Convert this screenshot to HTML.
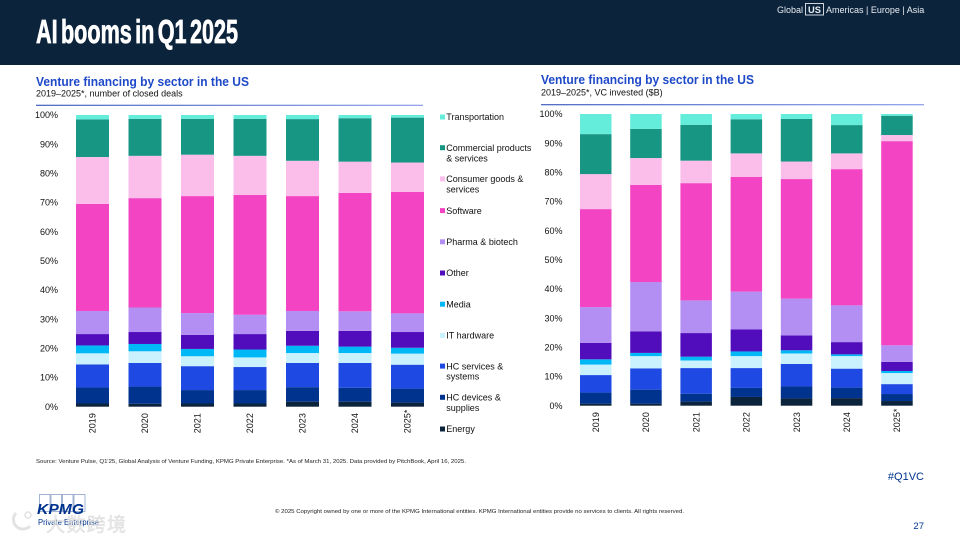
<!DOCTYPE html>
<html lang="en">
<head>
<meta charset="utf-8">
<title>AI booms in Q1 2025</title>
<style>
  html,body{margin:0;padding:0;background:#fff;}
  svg{display:block;font-family:"Liberation Sans",Arial,sans-serif;}
</style>
</head>
<body>
<svg id="slide" width="960" height="540" viewBox="0 0 960 540" xmlns="http://www.w3.org/2000/svg">
  <defs>
    <linearGradient id="rule-fade" x1="0" x2="1" y1="0" y2="0">
      <stop offset="0" stop-color="#3F5FC0"/>
      <stop offset="1" stop-color="#8A9CE8"/>
    </linearGradient>
  </defs>
  <rect x="0" y="0" width="960" height="65" fill="#0C233C"/>
  <text x="36" y="43" font-size="33" font-weight="700" fill="#fff" stroke="#fff" stroke-width="0.8" word-spacing="-4" textLength="202" lengthAdjust="spacingAndGlyphs">AI booms in Q1 2025</text>

  <g font-size="9" fill="#e8edf2">
    <text x="777" y="13">Global</text>
    <rect x="805.5" y="3.5" width="18" height="11.5" fill="none" stroke="#cfd6de" stroke-width="1"/>
    <text x="808" y="13" font-weight="700" textLength="13" lengthAdjust="spacingAndGlyphs">US</text>
    <text x="826" y="13">Americas | Europe | Asia</text>
  </g>

  <g>
    <text x="36" y="86" font-size="12.5" font-weight="700" fill="#1E49C8" textLength="213" lengthAdjust="spacingAndGlyphs">Venture financing by sector in the US</text>
    <text x="36" y="96.5" font-size="9" fill="#111">2019–2025*, number of closed deals</text>
    <rect x="36" y="104.7" width="387" height="1.2" fill="url(#rule-fade)"/>
  </g>
  <g>
    <text x="541" y="84" font-size="12.5" font-weight="700" fill="#1E49C8" textLength="213" lengthAdjust="spacingAndGlyphs">Venture financing by sector in the US</text>
    <text x="541" y="95.5" font-size="9" fill="#111">2019–2025*, VC invested ($B)</text>
    <rect x="541" y="104.1" width="383" height="1.2" fill="url(#rule-fade)"/>
  </g>

  <g id="left-chart"></g>
  <g id="right-chart"></g>
  <g id="legend" font-size="9" fill="#111"></g>

  <text x="36" y="463" font-size="5.6" fill="#222" textLength="430" lengthAdjust="spacingAndGlyphs">Source: Venture Pulse, Q1'25, Global Analysis of Venture Funding, KPMG Private Enterprise. *As of March 31, 2025. Data provided by PitchBook, April 16, 2025.</text>
  <text x="275" y="513" font-size="5.6" fill="#222" textLength="409" lengthAdjust="spacingAndGlyphs">© 2025 Copyright owned by one or more of the KPMG International entities. KPMG International entities provide no services to clients. All rights reserved.</text>

  <g>
    <g fill="none" stroke="#8DA2C8" stroke-width="0.8">
      <rect x="39.5" y="494.5" width="10.5" height="17"/>
      <rect x="51" y="494.5" width="10.5" height="17"/>
      <rect x="62.5" y="494.5" width="10.5" height="17"/>
      <rect x="74" y="494.5" width="11" height="17"/>
    </g>
    <text x="37" y="514" font-size="15" font-weight="700" font-style="italic" fill="#00338D" textLength="47" lengthAdjust="spacingAndGlyphs">KPMG</text>
    <text x="38" y="525" font-size="8" fill="#00338D" textLength="61" lengthAdjust="spacingAndGlyphs">Private Enterprise</text>
  </g>
  <g opacity="0.85">
    <path d="M16 513 A9 9 0 1 0 30 526" fill="none" stroke="#dedede" stroke-width="3"/>
    <circle cx="28" cy="515" r="3" fill="none" stroke="#dedede" stroke-width="1.5"/>
    <text x="46" y="531" font-size="19" font-family="'Liberation Sans','Noto Sans CJK SC',sans-serif" fill="#e2e2e2" stroke="#cfcfcf" stroke-width="0.4" opacity="0.9" textLength="80">大数跨境</text>
  </g>

  <text x="924" y="480" font-size="11" fill="#00338D" text-anchor="end">#Q1VC</text>
  <text x="924" y="529" font-size="9.5" fill="#00338D" text-anchor="end">27</text>
</svg>

<script>
var years = ['2019','2020','2021','2022','2023','2024','2025*'];
var tickLabels = [0,10,20,30,40,50,60,70,80,90,100];

var sectorKeys = ['energy','hc-devices','hc-services','it-hardware','media','other','pharma','software','consumer','commercial','transportation'];
var sectorColors = ['#0C233C','#00338D','#1E49E2','#C9F1FE','#00B8F5','#510DBC','#B48FF3','#F345C3','#FBBEEB','#179684','#64EDDB'];

var dealsEnergy = [1.1,1.0,1.1,1.1,1.7,1.7,1.4];
var dealsHcDevices = [5.5,5.9,4.6,4.6,5.0,4.8,4.8];
var dealsHcServices = [7.9,8.1,8.2,7.9,8.3,8.5,8.2];
var dealsItHardware = [3.8,4.0,3.4,3.3,3.4,3.4,3.8];
var dealsMedia = [2.7,2.5,2.5,2.7,2.5,2.2,2.0];
var dealsOther = [3.9,4.1,4.8,5.3,5.1,5.4,5.4];
var dealsPharma = [7.9,8.4,7.5,6.6,6.8,6.7,6.4];
var dealsSoftware = [36.7,37.5,40.1,41.1,39.4,40.6,41.6];
var dealsConsumer = [16.1,14.5,14.2,13.4,12.1,10.7,10.1];
var dealsCommercial = [12.9,12.7,12.3,12.7,14.3,14.9,15.4];
var dealsTransportation = [1.5,1.3,1.3,1.3,1.4,1.1,0.9];

var vcEnergy = [0.7,0.7,1.4,3.0,2.5,2.6,1.6];
var vcHcDevices = [3.8,4.8,2.7,3.1,4.1,3.6,2.4];
var vcHcServices = [6.0,7.3,8.8,6.8,7.7,6.5,3.4];
var vcItHardware = [3.6,4.2,2.6,4.1,3.6,4.3,3.8];
var vcMedia = [1.8,1.1,1.3,1.6,1.1,0.6,0.7];
var vcOther = [5.6,7.4,8.1,7.6,5.1,4.2,3.1];
var vcPharma = [12.3,16.9,11.2,12.9,12.6,12.6,5.7];
var vcSoftware = [33.6,33.3,40.2,39.3,41.0,46.7,70.0];
var vcConsumer = [12.0,9.2,7.7,8.1,6.0,5.4,2.1];
var vcCommercial = [13.7,10.0,12.3,11.7,14.6,9.7,6.6];
var vcTransportation = [6.9,5.1,3.7,1.8,1.7,3.8,0.6];

var legendLabels = [
  ['Transportation'],
  ['Commercial products','& services'],
  ['Consumer goods &','services'],
  ['Software'],
  ['Pharma & biotech'],
  ['Other'],
  ['Media'],
  ['IT hardware'],
  ['HC services &','systems'],
  ['HC devices &','supplies'],
  ['Energy']
];

var NS = 'http://www.w3.org/2000/svg';

function drawChart(rootId, series, box) {
  var root = document.getElementById(rootId);
  function yScale(v) { return box.y0 - (v / 100) * (box.y0 - box.y100); }
  function xScale(i) { return box.x0 + i * box.step; }

  tickLabels.forEach(function (t) {
    var tick = document.createElementNS(NS, 'text');
    
    
    tick.setAttribute('x', box.tickX);
    tick.setAttribute('y', yScale(t) + 3.2);
    tick.setAttribute('font-size', '9');
    tick.setAttribute('fill', '#111');
    tick.setAttribute('text-anchor', 'end');
    tick.textContent = t + '%';
    root.appendChild(tick);
  });

  years.forEach(function (year, i) {
    var total = 0;
    series.forEach(function (values) { total += values[i]; });
    var cum = 0;
    series.forEach(function (values, s) {
      var start = cum / total * 100;
      cum += values[i];
      var end = cum / total * 100;
      var seg = document.createElementNS(NS, 'rect');
      
      
      seg.setAttribute('x', xScale(i));
      seg.setAttribute('y', yScale(end));
      seg.setAttribute('width', box.barW);
      seg.setAttribute('height', yScale(start) - yScale(end));
      seg.setAttribute('fill', sectorColors[s]);
      root.appendChild(seg);
    });
    var cx = xScale(i) + box.barW / 2;
    var label = document.createElementNS(NS, 'text');
    
    
    label.setAttribute('transform', 'translate(' + (cx + 3.2) + ',' + (box.y0 + 26.5) + ') rotate(-90)');
    label.setAttribute('font-size', '9');
    label.setAttribute('fill', '#111');
    label.textContent = year;
    root.appendChild(label);
  });
}

drawChart('left-chart',
  [dealsEnergy,dealsHcDevices,dealsHcServices,dealsItHardware,dealsMedia,dealsOther,dealsPharma,dealsSoftware,dealsConsumer,dealsCommercial,dealsTransportation],
  {x0:76, step:52.5, barW:33, y0:406.7, y100:115, tickX:58});

drawChart('right-chart',
  [vcEnergy,vcHcDevices,vcHcServices,vcItHardware,vcMedia,vcOther,vcPharma,vcSoftware,vcConsumer,vcCommercial,vcTransportation],
  {x0:580, step:50.2, barW:31.5, y0:405.7, y100:114, tickX:562.5});

var legendRoot = document.getElementById('legend');
legendLabels.forEach(function (lines, i) {
  var slot = 117 + i * 31.2;
  var colorIdx = sectorColors.length - 1 - i;
  var firstLine = lines.length > 1 ? slot - 0.5 : slot;
  var swatch = document.createElementNS(NS, 'rect');
  
  
  swatch.setAttribute('x', 440);
  swatch.setAttribute('y', firstLine - 2.5);
  swatch.setAttribute('width', 5);
  swatch.setAttribute('height', 5);
  swatch.setAttribute('fill', sectorColors[colorIdx]);
  legendRoot.appendChild(swatch);
  lines.forEach(function (line, n) {
    var entry = document.createElementNS(NS, 'text');
    
    
    entry.setAttribute('x', 446.3);
    entry.setAttribute('y', firstLine + 3.2 + n * 10.4);
    entry.textContent = line;
    legendRoot.appendChild(entry);
  });
});
</script>
</body>
</html>
